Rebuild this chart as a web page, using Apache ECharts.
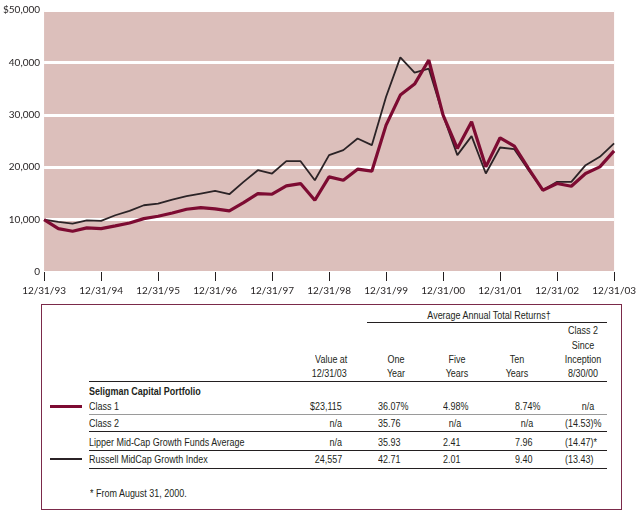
<!DOCTYPE html>
<html>
<head>
<meta charset="utf-8">
<script src="https://cdn.jsdelivr.net/npm/echarts@6/dist/echarts.min.js"></script>
<style>
  html, body { margin: 0; padding: 0; background: #fff; }
  #page { position: relative; width: 639px; height: 518px; overflow: hidden; }
  #main { position: absolute; left: 0; top: 0; width: 639px; height: 300px; }
  .t {
    position: absolute; white-space: nowrap; line-height: 12px; height: 12px;
    font-family: 'Liberation Sans', Arial, sans-serif;
    font-size: 11.5px; color: #231f20;
  }
  .hl { position: absolute; height: 0; border-top: 1px solid #231f20; }
</style>
</head>
<body>
<div id="page">
  <div id="main"></div>
  <div id="table"></div>
</div>
<script>
// year-end tick labels, the chart has quarterly points between them
var yearLabels = ['12/31/93', '12/31/94', '12/31/95', '12/31/96', '12/31/97', '12/31/98',
  '12/31/99', '12/31/00', '12/31/01', '12/31/02', '12/31/03'];
var quarterEnds = ['3/31/', '6/30/', '9/30/'];

// growth of $10,000
var class1 = [10000, 8280, 7770, 8410, 8280, 8790, 9360, 10190, 10640, 11270, 11980,
  12290, 12040, 11660, 13250, 14970, 14840, 16430, 16880, 13700, 18150,
  17520, 19620, 19240, 28030, 33760, 35860, 40450, 29940, 23570, 28670,
  20070, 25610, 24010, 19750, 15610, 16880, 16370, 18790, 20070, 23115];
var russell = [10000, 9560, 9240, 9870, 9750, 10830, 11660, 12740, 13060, 13820, 14460,
  14970, 15480, 14840, 17200, 19430, 18790, 21150, 21150, 17520, 22300,
  23250, 25480, 24210, 33440, 40960, 38030, 38790, 29940, 22300, 25930,
  18790, 23760, 23440, 19430, 15610, 17200, 17200, 20380, 21980, 24557];

// table
var rowNames = ['Class 1', 'Class 2', 'Lipper Mid-Cap Growth Funds Average', 'Russell MidCap Growth Index'];
var valueAt = ['$23,115', 'n/a', 'n/a', '24,557'];
var oneYear = ['36.07%', '35.76', '35.93', '42.71'];
var fiveYears = ['4.98%', 'n/a', '2.41', '2.01'];
var tenYears = ['8.74%', 'n/a', '7.96', '9.40'];
var sinceInception = ['n/a', '(14.53)%', '(14.47)*', '(13.43)'];

var categories = [yearLabels[0]];
for (var i = 1; i < yearLabels.length; i++) {
  var yy = yearLabels[i].substring(6);
  for (var q = 0; q < 3; q++) categories.push(quarterEnds[q] + yy);
  categories.push(yearLabels[i]);
}

var axisFont = 'Lato, "Open Sans", sans-serif';
var myChart = echarts.init(document.getElementById('main'));
var option = {
  animation: false,
  grid: {
    left: 40, right: 23, top: 10, height: 262,
    show: true, backgroundColor: '#dcbfbb', borderWidth: 0
  },
  xAxis: {
    type: 'category',
    boundaryGap: false,
    data: categories,
    axisLine: { show: false },
    axisTick: { show: true, interval: 3, length: 9, lineStyle: { color: '#231f20', width: 1 } },
    axisLabel: {
      interval: 3, margin: 14, color: '#231f20', fontSize: 10, fontFamily: axisFont
    },
    splitLine: { show: false }
  },
  yAxis: {
    type: 'value',
    min: 0, max: 50000, interval: 10000,
    axisLine: { show: false },
    axisTick: { show: false },
    axisLabel: {
      margin: 4, color: '#231f20', fontSize: 10, fontFamily: axisFont,
      formatter: function (v) {
        var s = v.toLocaleString('en-US');
        return v === 50000 ? '$' + s : s;
      }
    },
    splitLine: { show: true, lineStyle: { color: '#ffffff', width: 3 } }
  },
  series: [{
    name: 'Russell MidCap Growth Index',
    type: 'line',
    data: russell,
    symbol: 'none',
    lineStyle: { color: '#2b2326', width: 1.8 },
    z: 2
  }, {
    name: 'Class 1',
    type: 'line',
    data: class1,
    symbol: 'none',
    lineStyle: { color: '#7d0b32', width: 3.2 },
    z: 3
  }]
};
myChart.setOption(option);

// --- table under the chart ---
// condensed face: Liberation Sans squeezed horizontally
var squeeze = 0.78;
var tbl = document.getElementById('table');
function text(s, x, y, align, bold) {
  var d = document.createElement('div');
  d.className = 't';
  d.textContent = s;
  d.style.top = (y - 6) + 'px';
  if (align === 'right') {
    d.style.right = (639 - x) + 'px';
    d.style.transformOrigin = 'right center';
    d.style.transform = 'scaleX(' + squeeze + ')';
  } else if (align === 'center') {
    d.style.left = x + 'px';
    d.style.transformOrigin = 'center center';
    d.style.transform = 'translateX(-50%) scaleX(' + squeeze + ')';
  } else {
    d.style.left = x + 'px';
    d.style.transformOrigin = 'left center';
    d.style.transform = 'scaleX(' + squeeze + ')';
  }
  if (bold) d.style.fontWeight = 'bold';
  tbl.appendChild(d);
}
function hline(x1, x2, y, color, w) {
  var d = document.createElement('div');
  d.className = 'hl';
  d.style.left = x1 + 'px';
  d.style.width = (x2 - x1) + 'px';
  d.style.top = y + 'px';
  d.style.borderTop = (w || 1) + 'px solid ' + (color || '#231f20');
  tbl.appendChild(d);
}

var box = document.createElement('div');
box.style.cssText = 'position:absolute;left:41px;top:304px;width:579px;height:204px;border:1px solid #7b2a4a;';
tbl.appendChild(box);

text('Average Annual Total Returns\u2020', 489, 315, 'center');
hline(367, 607, 322);
text('Class 2', 583, 330, 'center');
text('Since', 583, 345, 'center');
text('Inception', 583, 359, 'center');
text('8/30/00', 583, 373, 'center');
text('Value at', 347, 359, 'right');
text('12/31/03', 347, 373, 'right');
text('One', 396, 359, 'center');
text('Year', 396, 373, 'center');
text('Five', 457, 359, 'center');
text('Years', 457, 373, 'center');
text('Ten', 517, 359, 'center');
text('Years', 517, 373, 'center');
hline(89, 607, 381);
text('Seligman Capital Portfolio', 89, 391, 'left', true);

var rowY = [406, 422.5, 441.5, 459];
var lineY = [414, 431, 450, 468];
var lineCol = ['#9a9a9a', '#231f20', '#231f20', '#231f20'];
for (var r = 0; r < rowNames.length; r++) {
  var y = rowY[r];
  text(rowNames[r], 89, y, 'left');
  text(valueAt[r], 342, y, 'right');
  text(oneYear[r], 378, y, 'left');
  if (fiveYears[r] === 'n/a') text(fiveYears[r], 455, y, 'center'); else text(fiveYears[r], 443, y, 'left');
  if (tenYears[r] === 'n/a') text(tenYears[r], 527, y, 'center'); else text(tenYears[r], 515, y, 'left');
  if (sinceInception[r] === 'n/a') text(sinceInception[r], 588, y, 'center'); else text(sinceInception[r], 565, y, 'left');
  hline(89, 607, lineY[r], lineCol[r]);
}

// legend swatches next to the rows that are plotted
var sw1 = document.createElement('div');
sw1.style.cssText = 'position:absolute;left:50px;top:404.5px;width:32px;height:3px;background:#7d0b32;';
tbl.appendChild(sw1);
var sw2 = document.createElement('div');
sw2.style.cssText = 'position:absolute;left:50px;top:458px;width:32px;height:2px;background:#2b2326;';
tbl.appendChild(sw2);

text('* From August 31,  2000.', 90, 493, 'left');
</script>
</body>
</html>
